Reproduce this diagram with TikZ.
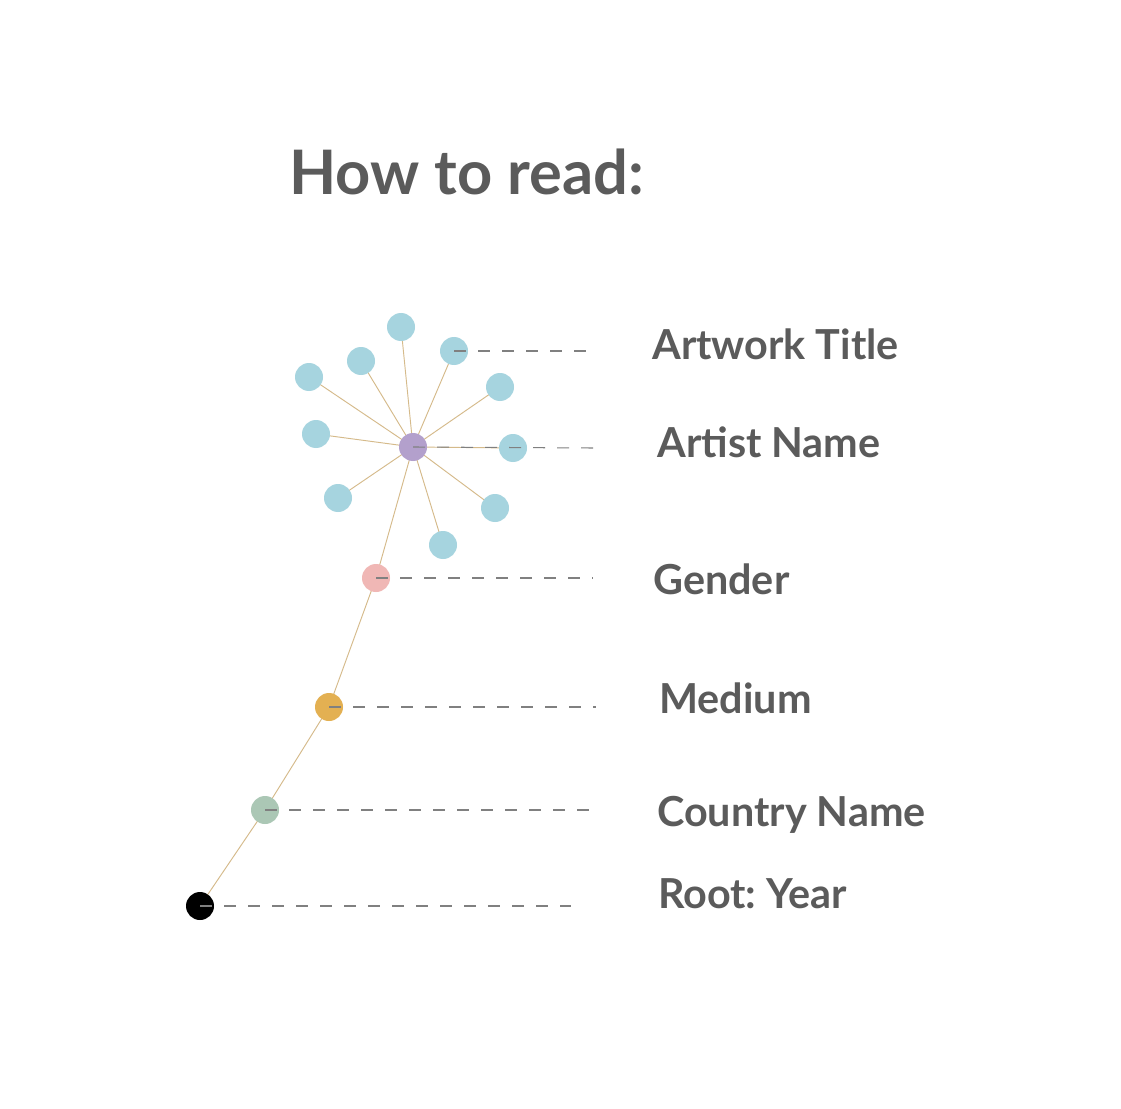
\documentclass[tikz,border=0pt]{standalone}
\usepackage{fontspec}
\setsansfont{Lato}
\usetikzlibrary{backgrounds}
\frenchspacing
\definecolor{cleaf}{HTML}{A6D4DF}
\definecolor{cartist}{HTML}{B3A0CC}
\definecolor{cgender}{HTML}{F0B7B5}
\definecolor{cmedium}{HTML}{E3B052}
\definecolor{ccountry}{HTML}{ABC7B5}
\definecolor{cstem}{HTML}{D5BA8A}
\definecolor{cgrey}{HTML}{5B5B5B}
\tikzset{
  every picture/.style={x=0.75pt, y=-0.75pt},
  dot/.style={circle, fill=#1, inner sep=0pt, minimum size=21pt},
  dot/.default=cleaf,
  stem/.style={draw=cstem, line width=0.7pt},
  guide/.style={draw=gray, line width=0.8pt, dash pattern=on 9pt off 9pt},
  title/.style={font=\sffamily\bfseries\fontsize{46}{55}\selectfont, text=cgrey, anchor=base west, inner sep=0pt},
  label/.style={font=\sffamily\bfseries\fontsize{31}{37}\selectfont, text=cgrey, anchor=base west, inner sep=0pt},
}

\begin{document}
\begin{tikzpicture}
  \useasboundingbox (0,0) rectangle (1121,1109);
  \node[title] (head) at (289,195) {How to read:};
  % stem from the root up to the artist
  \node[dot=black] (root) at (200,906) {};
  \node[dot=ccountry] (country) at (265,810) {};
  \node[dot=cmedium] (medium) at (329,707) {};
  \node[dot=cgender] (gender) at (376,578) {};
  \node[dot=cartist] (artist) at (413,447) {};
  % artworks round the artist
  \node[dot] (w1) at (401,327) {}; \node[dot] (w2) at (454,351) {};
  \node[dot] (w3) at (500,387) {}; \node[dot] (w4) at (513,448) {};
  \node[dot] (w5) at (495,508) {}; \node[dot] (w6) at (443,545) {};
  \node[dot] (w7) at (338,498) {}; \node[dot] (w8) at (316,434) {};
  \node[dot] (w9) at (309,377) {}; \node[dot] (w10) at (361,361) {};
  \begin{scope}[on background layer]
    \fill[white] (0,0) rectangle (1121,1109);
    \draw[stem] (root.center) -- (country.center) -- (medium.center) -- (gender.center) -- (artist.center);
    \draw[stem] (artist.center) -- (w1.center); \draw[stem] (artist.center) -- (w2.center);
    \draw[stem] (artist.center) -- (w3.center); \draw[stem] (artist.center) -- (w4.center);
    \draw[stem] (artist.center) -- (w5.center); \draw[stem] (artist.center) -- (w6.center);
    \draw[stem] (artist.center) -- (w7.center); \draw[stem] (artist.center) -- (w8.center);
    \draw[stem] (artist.center) -- (w9.center); \draw[stem] (artist.center) -- (w10.center);
  \end{scope}
  % labels on the right
  \node[label] (ltitle) at (652,359) {Artwork Title};
  \node[label] (lartist) at (657,457) {Artist Name};
  \node[label] (lgender) at (653,594) {Gender};
  \node[label] (lmedium) at (659,713) {Medium};
  \node[label] (lcountry) at (657,826) {Country Name};
  \node[label] (lroot) at (658,908) {Root: Year};
  \coordinate (e1) at (592,351); \coordinate (e2) at (595,448);
  \coordinate (e3) at (593,578); \coordinate (e4) at (596,707);
  \coordinate (e5) at (595,810); \coordinate (e6) at (571,906);
  \draw[guide] (w2.center) -- (e1); \draw[guide] (artist.center) -- (e2);
  \draw[guide] (gender.center) -- (e3); \draw[guide] (medium.center) -- (e4);
  \draw[guide] (country.center) -- (e5); \draw[guide] (root.center) -- (e6);
\end{tikzpicture}
\end{document}
